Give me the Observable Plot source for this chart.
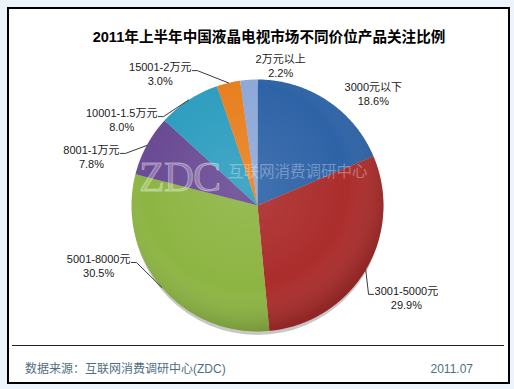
<!DOCTYPE html>
<html><head><meta charset="utf-8">
<script src="https://cdn.jsdelivr.net/npm/d3@7"></script>
<script src="https://cdn.jsdelivr.net/npm/@observablehq/plot@0.6"></script>
<style>
html,body{margin:0;padding:0;}
body{width:514px;height:389px;background:#eef4fb;position:relative;overflow:hidden;font-family:"Liberation Sans","Noto Sans CJK SC",sans-serif;}
#frame{position:absolute;left:7px;top:7px;width:503px;height:377px;box-sizing:border-box;border:2px solid #000;background:#fff;}
#title{position:absolute;left:12px;width:514px;top:28px;text-align:center;font-weight:bold;font-size:14.6px;line-height:19px;color:#000;}
#chart{position:absolute;left:0;top:0;}
#rule{position:absolute;left:12px;top:345px;width:492px;height:0;border-top:1px solid #222;}
#source{position:absolute;left:25px;top:361px;font-size:12px;line-height:16px;color:#4f6f80;white-space:nowrap;}
#date{position:absolute;right:41px;top:361px;font-size:12px;line-height:16px;color:#4f6f80;}
#wm1{position:absolute;left:139px;top:156px;font-family:"Liberation Serif","DejaVu Serif",serif;font-size:42px;line-height:42px;color:rgba(255,255,255,0.25);-webkit-text-stroke:0.8px rgba(255,255,255,0.4);letter-spacing:-1px;}
#wm2{position:absolute;left:228px;top:163px;font-size:15.5px;line-height:18px;color:rgba(255,255,255,0.33);white-space:nowrap;}
</style></head>
<body>
<div id="frame"></div>
<div id="title">2011年上半年中国液晶电视市场不同价位产品关注比例</div>
<div id="chart"></div>
<div id="wm1">ZDC</div>
<div id="wm2">互联网消费调研中心</div>
<div id="rule"></div>
<div id="source">数据来源：互联网消费调研中心(ZDC)</div>
<div id="date">2011.07</div>
<script>
// ---- data ----
const categories = ["3000元以下", "3001-5000元", "5001-8000元", "8001-1万元", "10001-1.5万元", "15001-2万元", "2万元以上"];
const shares = [18.6, 29.9, 30.5, 7.8, 8.0, 3.0, 2.2];
const colors = ["#2e63a7", "#ab2d2c", "#8db543", "#6a4b94", "#2f9ec0", "#e8801f", "#8ea9d9"];

// ---- layout (label placement, in degrees / radius multiples) ----
const labelNudge = [1.7, 7.9, 15.3, -6.9, -13.5, -10.7, 0.8];
const labelRadius = [1.117, 1.129, 1.062, 1.126, 1.027, 1.172, 1.137];

const W = 514, H = 389, CX = 257, CY = 205, R = 126;
const HSEG = 5, GAP = 1;
const deg = Math.PI / 180, px = 1 / R;
const total = d3.sum(shares);
let acc = 0;
const slices = categories.map((c, i) => {
  const a0 = acc / total * 360; acc += shares[i]; const a1 = acc / total * 360;
  return {cat: c, value: shares[i], a0, a1, mid: (a0 + a1) / 2, i};
});
const polys = [];
for (const s of slices) {
  polys.push({cat: s.cat, x: 0, y: 0});
  const n = Math.max(2, Math.ceil((s.a1 - s.a0) / 0.5));
  for (let k = 0; k <= n; k++) {
    const a = (s.a0 + (s.a1 - s.a0) * k / n) * deg;
    polys.push({cat: s.cat, x: Math.sin(a), y: Math.cos(a)});
  }
}
const ctx = document.createElement("canvas").getContext("2d");
ctx.font = '11px "Liberation Sans","Noto Sans CJK SC"';
const labels = slices.map(s => {
  const am = s.mid * deg, al = (s.mid + labelNudge[s.i]) * deg, rl = labelRadius[s.i];
  const ex = Math.sin(am), ey = Math.cos(am);
  const kx = rl * Math.sin(al), ky = rl * Math.cos(al);
  const dir = kx >= ex ? 1 : -1;
  const t1 = s.cat, t2 = s.value.toFixed(1) + "%";
  const w = Math.max(ctx.measureText(t1).width, ctx.measureText(t2).width);
  const hx = kx + dir * HSEG * px;
  const tx = hx + dir * (GAP + w / 2) * px;
  const len = Math.hypot(kx - ex, ky - ey) * R;
  return {cat: s.cat, ex, ey, kx, ky, hx, tx, t1, t2, len};
});
const leaders = [];
for (const l of labels) {
  if (l.len < 20) continue;
  leaders.push({cat: l.cat, x: l.ex, y: l.ey});
  leaders.push({cat: l.cat, x: l.kx, y: l.ky});
  leaders.push({cat: l.cat, x: l.hx, y: l.ky});
}

const chart = Plot.plot({
  width: W, height: H, margin: 0,
  x: {domain: [-CX / R, (W - CX) / R], range: [0, W], axis: null},
  y: {domain: [(CY - H) / R, CY / R], range: [H, 0], axis: null},
  color: {domain: categories, range: colors},
  style: {background: "transparent", fontFamily: '"Liberation Sans","Noto Sans CJK SC",sans-serif', fontSize: "11px", overflow: "visible"},
  marks: [
    Plot.dot([{x: 0, y: -0.035}], {x: "x", y: "y", r: R - 1, fill: "#000", fillOpacity: 0.22, stroke: "none", ariaLabel: "pie-shadow"}),
    Plot.line(polys, {x: "x", y: "y", z: "cat", fill: "cat", stroke: "none"}),
    Plot.dot([{x: 0, y: 0}], {x: "x", y: "y", r: R, fill: "url(#shade)", stroke: "none"}),
    Plot.line(leaders, {x: "x", y: "y", z: "cat", stroke: "#222", strokeWidth: 0.9}),
    Plot.text(labels, {x: "tx", y: d => d.ky + 3 * px, text: "t1", textAnchor: "middle", lineAnchor: "middle", fill: "#1a1a1a"}),
    Plot.text(labels, {x: "tx", y: d => d.ky - 11 * px, text: "t2", textAnchor: "middle", lineAnchor: "middle", fill: "#1a1a1a"})
  ]
});
document.getElementById("chart").appendChild(chart);
const svg = d3.select(chart);
const defs = svg.insert("defs", ":first-child");
const g = defs.append("radialGradient").attr("id", "shade").attr("cx", "45%").attr("cy", "42%").attr("r", "58%");
g.append("stop").attr("offset", "0%").attr("stop-color", "#fff").attr("stop-opacity", 0.1);
g.append("stop").attr("offset", "70%").attr("stop-color", "#fff").attr("stop-opacity", 0);
g.append("stop").attr("offset", "100%").attr("stop-color", "#000").attr("stop-opacity", 0.16);
const f = defs.append("filter").attr("id", "blur").attr("x", "-20%").attr("y", "-20%").attr("width", "140%").attr("height", "140%");
f.append("feGaussianBlur").attr("stdDeviation", 3);
svg.selectAll('g[aria-label="pie-shadow"] circle').attr("filter", "url(#blur)");
</script>
</body></html>
